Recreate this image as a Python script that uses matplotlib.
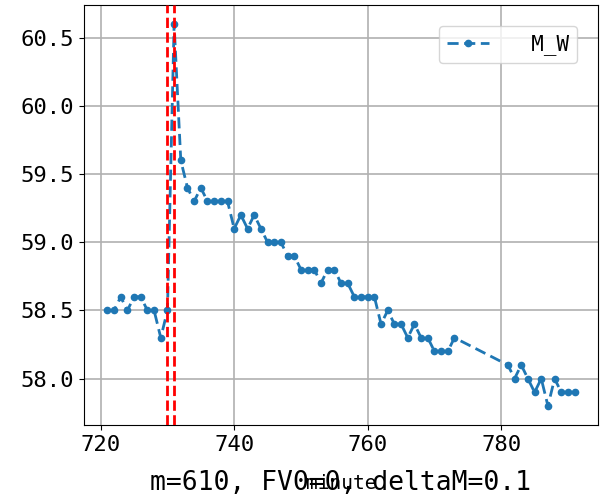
import matplotlib
matplotlib.use("Agg")
import matplotlib.pyplot as plt

plt.rcParams['font.family'] = ['DejaVu Sans Mono', 'Noto Sans CJK SC']

# minute index and M_W value
minutes = [721, 722, 723, 724, 725, 726, 727, 728, 729, 730,
           731, 732, 733, 734, 735, 736, 737, 738, 739, 740,
           741, 742, 743, 744, 745, 746, 747, 748, 749, 750,
           751, 752, 753, 754, 755, 756, 757, 758, 759, 760,
           761, 762, 763, 764, 765, 766, 767, 768, 769, 770,
           771, 772, 773, 781, 782, 783, 784, 785, 786, 787,
           788, 789, 790, 791]
m_w = [58.5, 58.5, 58.6, 58.5, 58.6, 58.6, 58.5, 58.5, 58.3, 58.5,
       60.6, 59.6, 59.4, 59.3, 59.4, 59.3, 59.3, 59.3, 59.3, 59.1,
       59.2, 59.1, 59.2, 59.1, 59.0, 59.0, 59.0, 58.9, 58.9, 58.8,
       58.8, 58.8, 58.7, 58.8, 58.8, 58.7, 58.7, 58.6, 58.6, 58.6,
       58.6, 58.4, 58.5, 58.4, 58.4, 58.3, 58.4, 58.3, 58.3, 58.2,
       58.2, 58.2, 58.3, 58.1, 58.0, 58.1, 58.0, 57.9, 58.0, 57.8,
       58.0, 57.9, 57.9, 57.9]
event_lines = [730, 731]
caption = "m=610, FV0=0, deltaM=0.1"

fig = plt.figure(figsize=(6.0, 5.01), dpi=100)
ax = fig.add_axes([84 / 600, 76 / 501, 514 / 600, 420 / 501])

ax.plot(minutes, m_w, linestyle='--', marker='o', markersize=4.5,
        linewidth=2, color='#1f77b4', label='  M_W', zorder=3,
        dashes=(4, 2))
for v in event_lines:
    ax.axvline(v, color='red', linestyle='--', linewidth=2, zorder=4)

ax.grid(True, color='#b0b0b0', linewidth=1.2)
ax.set_xticks([720, 740, 760, 780])
ax.set_yticks([58.0, 58.5, 59.0, 59.5, 60.0, 60.5])
ax.tick_params(labelsize=16)
ax.set_xlabel('minute', fontsize=14, labelpad=14)
ax.legend(loc='upper right', fontsize=15, borderaxespad=1.0)

fig.text(341 / 600, 18 / 501, caption, ha='center', va='center', fontsize=19)

fig.savefig('out.png', dpi=100)
